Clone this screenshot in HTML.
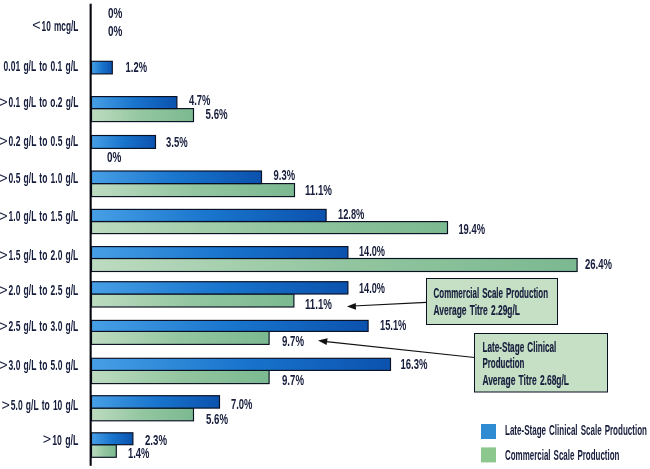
<!DOCTYPE html>
<html lang="en"><head><meta charset="utf-8"><title>Titre distribution</title>
<style>
html,body{margin:0;padding:0;background:#fff;}
body{width:650px;height:469px;overflow:hidden;}
svg{display:block;}
text{font-family:"Liberation Sans",sans-serif;fill:#171d3c;}
.l{font-size:14.3px;font-weight:bold;word-spacing:0.1em;}
.s{font-size:14.3px;}
.b{font-size:14.3px;font-weight:bold;word-spacing:0.1em;stroke:#171d3c;stroke-width:0.18;}
</style></head><body>
<svg width="650" height="469" viewBox="0 0 650 469">
<defs>
<linearGradient id="gb" x1="0" y1="0" x2="1" y2="0"><stop offset="0" stop-color="#479fe5"/><stop offset="0.5" stop-color="#1975cd"/><stop offset="1" stop-color="#0b52ae"/></linearGradient>
<linearGradient id="gg" x1="0" y1="0" x2="1" y2="0"><stop offset="0" stop-color="#bddbc0"/><stop offset="0.5" stop-color="#93c6a0"/><stop offset="1" stop-color="#7bb990"/></linearGradient>
</defs>
<rect width="650" height="469" fill="#fff"/>
<rect x="91.5" y="61.3" width="20.8" height="12.6" fill="url(#gb)" stroke="#0a0f22" stroke-width="1.15"/>
<rect x="91.5" y="108.6" width="102.0" height="13.0" fill="url(#gg)" stroke="#0a0f22" stroke-width="1.15"/>
<rect x="91.5" y="96.6" width="85.4" height="12.0" fill="url(#gb)" stroke="#0a0f22" stroke-width="1.15"/>
<rect x="91.5" y="135.5" width="64.0" height="12.9" fill="url(#gb)" stroke="#0a0f22" stroke-width="1.15"/>
<rect x="91.5" y="183.6" width="203.0" height="13.0" fill="url(#gg)" stroke="#0a0f22" stroke-width="1.15"/>
<rect x="91.5" y="171.0" width="170.0" height="12.6" fill="url(#gb)" stroke="#0a0f22" stroke-width="1.15"/>
<rect x="91.5" y="221.6" width="356.0" height="12.0" fill="url(#gg)" stroke="#0a0f22" stroke-width="1.15"/>
<rect x="91.5" y="209.4" width="234.6" height="12.1" fill="url(#gb)" stroke="#0a0f22" stroke-width="1.15"/>
<rect x="91.5" y="258.5" width="485.6" height="13.0" fill="url(#gg)" stroke="#0a0f22" stroke-width="1.15"/>
<rect x="91.5" y="246.6" width="256.4" height="11.9" fill="url(#gb)" stroke="#0a0f22" stroke-width="1.15"/>
<rect x="91.5" y="294.0" width="202.4" height="13.0" fill="url(#gg)" stroke="#0a0f22" stroke-width="1.15"/>
<rect x="91.5" y="281.7" width="256.4" height="12.3" fill="url(#gb)" stroke="#0a0f22" stroke-width="1.15"/>
<rect x="91.5" y="331.4" width="177.6" height="13.0" fill="url(#gg)" stroke="#0a0f22" stroke-width="1.15"/>
<rect x="91.5" y="320.4" width="276.6" height="11.0" fill="url(#gb)" stroke="#0a0f22" stroke-width="1.15"/>
<rect x="91.5" y="370.4" width="177.6" height="13.2" fill="url(#gg)" stroke="#0a0f22" stroke-width="1.15"/>
<rect x="91.5" y="358.3" width="299.0" height="12.1" fill="url(#gb)" stroke="#0a0f22" stroke-width="1.15"/>
<rect x="91.5" y="408.1" width="102.0" height="12.7" fill="url(#gg)" stroke="#0a0f22" stroke-width="1.15"/>
<rect x="91.5" y="395.7" width="128.0" height="12.4" fill="url(#gb)" stroke="#0a0f22" stroke-width="1.15"/>
<rect x="91.5" y="444.7" width="24.8" height="12.6" fill="url(#gg)" stroke="#0a0f22" stroke-width="1.15"/>
<rect x="91.5" y="432.8" width="41.4" height="11.9" fill="url(#gb)" stroke="#0a0f22" stroke-width="1.15"/>
<rect x="89.6" y="3.7" width="2.1" height="462.1" fill="#05070f"/>
<text class="s" x="40.6" y="30.3" text-anchor="end">&lt;</text>
<text class="l" x="41.6" y="30.6" textLength="36.7" lengthAdjust="spacingAndGlyphs">10 mcg/L</text>
<text class="l" x="3.6" y="70.9" textLength="74.7" lengthAdjust="spacingAndGlyphs">0.01 g/L to 0.1 g/L</text>
<text class="s" x="7.6" y="107.0" text-anchor="end">&gt;</text>
<text class="l" x="8.6" y="107.3" textLength="69.7" lengthAdjust="spacingAndGlyphs">0.1 g/L to o.2 g/L</text>
<text class="s" x="7.6" y="146.0" text-anchor="end">&gt;</text>
<text class="l" x="8.6" y="146.3" textLength="69.7" lengthAdjust="spacingAndGlyphs">0.2 g/L to 0.5 g/L</text>
<text class="s" x="7.6" y="183.0" text-anchor="end">&gt;</text>
<text class="l" x="8.6" y="183.3" textLength="69.7" lengthAdjust="spacingAndGlyphs">0.5 g/L to 1.0 g/L</text>
<text class="s" x="7.6" y="221.0" text-anchor="end">&gt;</text>
<text class="l" x="8.6" y="221.3" textLength="69.7" lengthAdjust="spacingAndGlyphs">1.0 g/L to 1.5 g/L</text>
<text class="s" x="7.6" y="260.0" text-anchor="end">&gt;</text>
<text class="l" x="8.6" y="260.3" textLength="69.7" lengthAdjust="spacingAndGlyphs">1.5 g/L to 2.0 g/L</text>
<text class="s" x="7.6" y="295.0" text-anchor="end">&gt;</text>
<text class="l" x="8.6" y="295.3" textLength="69.7" lengthAdjust="spacingAndGlyphs">2.0 g/L to 2.5 g/L</text>
<text class="s" x="7.6" y="331.0" text-anchor="end">&gt;</text>
<text class="l" x="8.6" y="331.3" textLength="69.7" lengthAdjust="spacingAndGlyphs">2.5 g/L to 3.0 g/L</text>
<text class="s" x="7.6" y="369.6" text-anchor="end">&gt;</text>
<text class="l" x="8.6" y="369.9" textLength="69.7" lengthAdjust="spacingAndGlyphs">3.0 g/L to 5.0 g/L</text>
<text class="s" x="9.8" y="409.9" text-anchor="end">&gt;</text>
<text class="l" x="10.8" y="410.2" textLength="67.5" lengthAdjust="spacingAndGlyphs">5.0 g/L to 10 g/L</text>
<text class="s" x="51.2" y="444.3" text-anchor="end">&gt;</text>
<text class="l" x="52.2" y="444.6" textLength="26.1" lengthAdjust="spacingAndGlyphs">10 g/L</text>
<text class="l" x="108.0" y="18.0" textLength="14.4" lengthAdjust="spacingAndGlyphs">0%</text>
<text class="l" x="108.0" y="36.0" textLength="14.4" lengthAdjust="spacingAndGlyphs">0%</text>
<text class="l" x="125.6" y="72.4" textLength="21.4" lengthAdjust="spacingAndGlyphs">1.2%</text>
<text class="l" x="189.0" y="105.4" textLength="21.4" lengthAdjust="spacingAndGlyphs">4.7%</text>
<text class="l" x="205.6" y="118.6" textLength="22.0" lengthAdjust="spacingAndGlyphs">5.6%</text>
<text class="l" x="166.0" y="147.0" textLength="21.6" lengthAdjust="spacingAndGlyphs">3.5%</text>
<text class="l" x="107.0" y="162.0" textLength="14.4" lengthAdjust="spacingAndGlyphs">0%</text>
<text class="l" x="273.6" y="180.4" textLength="21.4" lengthAdjust="spacingAndGlyphs">9.3%</text>
<text class="l" x="305.0" y="195.0" textLength="27.0" lengthAdjust="spacingAndGlyphs">11.1%</text>
<text class="l" x="338.0" y="218.6" textLength="26.4" lengthAdjust="spacingAndGlyphs">12.8%</text>
<text class="l" x="458.4" y="233.6" textLength="26.6" lengthAdjust="spacingAndGlyphs">19.4%</text>
<text class="l" x="359.0" y="255.6" textLength="26.0" lengthAdjust="spacingAndGlyphs">14.0%</text>
<text class="l" x="585.0" y="269.4" textLength="27.0" lengthAdjust="spacingAndGlyphs">26.4%</text>
<text class="l" x="359.0" y="293.4" textLength="26.0" lengthAdjust="spacingAndGlyphs">14.0%</text>
<text class="l" x="305.0" y="309.4" textLength="27.0" lengthAdjust="spacingAndGlyphs">11.1%</text>
<text class="l" x="380.0" y="329.6" textLength="26.4" lengthAdjust="spacingAndGlyphs">15.1%</text>
<text class="l" x="282.0" y="346.0" textLength="22.0" lengthAdjust="spacingAndGlyphs">9.7%</text>
<text class="l" x="400.4" y="369.4" textLength="27.0" lengthAdjust="spacingAndGlyphs">16.3%</text>
<text class="l" x="282.0" y="385.4" textLength="22.0" lengthAdjust="spacingAndGlyphs">9.7%</text>
<text class="l" x="231.0" y="409.0" textLength="21.4" lengthAdjust="spacingAndGlyphs">7.0%</text>
<text class="l" x="206.0" y="423.6" textLength="22.0" lengthAdjust="spacingAndGlyphs">5.6%</text>
<text class="l" x="145.0" y="444.6" textLength="22.0" lengthAdjust="spacingAndGlyphs">2.3%</text>
<text class="l" x="128.0" y="457.6" textLength="21.4" lengthAdjust="spacingAndGlyphs">1.4%</text>
<rect x="426.5" y="278.5" width="131" height="46" fill="#c6e0c6" stroke="#0a0f22" stroke-width="1"/>
<rect x="474.5" y="333.5" width="133" height="58.5" fill="#c6e0c6" stroke="#0a0f22" stroke-width="1"/>
<text class="b" x="433.6" y="297.6" textLength="114.4" lengthAdjust="spacingAndGlyphs">Commercial Scale Production</text>
<text class="b" x="433.6" y="315.0" textLength="86.4" lengthAdjust="spacingAndGlyphs">Average Titre 2.29g/L</text>
<text class="b" x="482.4" y="352.0" textLength="74.0" lengthAdjust="spacingAndGlyphs">Late-Stage Clinical</text>
<text class="b" x="482.4" y="368.0" textLength="42.0" lengthAdjust="spacingAndGlyphs">Production</text>
<text class="b" x="482.4" y="385.0" textLength="86.6" lengthAdjust="spacingAndGlyphs">Average Titre 2.68g/L</text>
<line x1="426.5" y1="302.4" x2="353" y2="306" stroke="#111" stroke-width="1.2"/>
<polygon points="346.9,306.4 355.8,302.9 356,309.8" fill="#111"/>
<line x1="474.5" y1="357.5" x2="324" y2="341.3" stroke="#111" stroke-width="1.2"/>
<polygon points="318,340.6 327.6,338.3 326.6,345" fill="#111"/>
<rect x="481" y="424" width="15" height="15" fill="#2f8bd2"/>
<rect x="481" y="447.4" width="15" height="15" fill="#8cc78e"/>
<text class="l" x="505.0" y="435.4" textLength="142.0" lengthAdjust="spacingAndGlyphs">Late-Stage Clinical Scale Production</text>
<text class="l" x="505.0" y="459.8" textLength="114.4" lengthAdjust="spacingAndGlyphs">Commercial Scale Production</text>
</svg>
</body></html>
